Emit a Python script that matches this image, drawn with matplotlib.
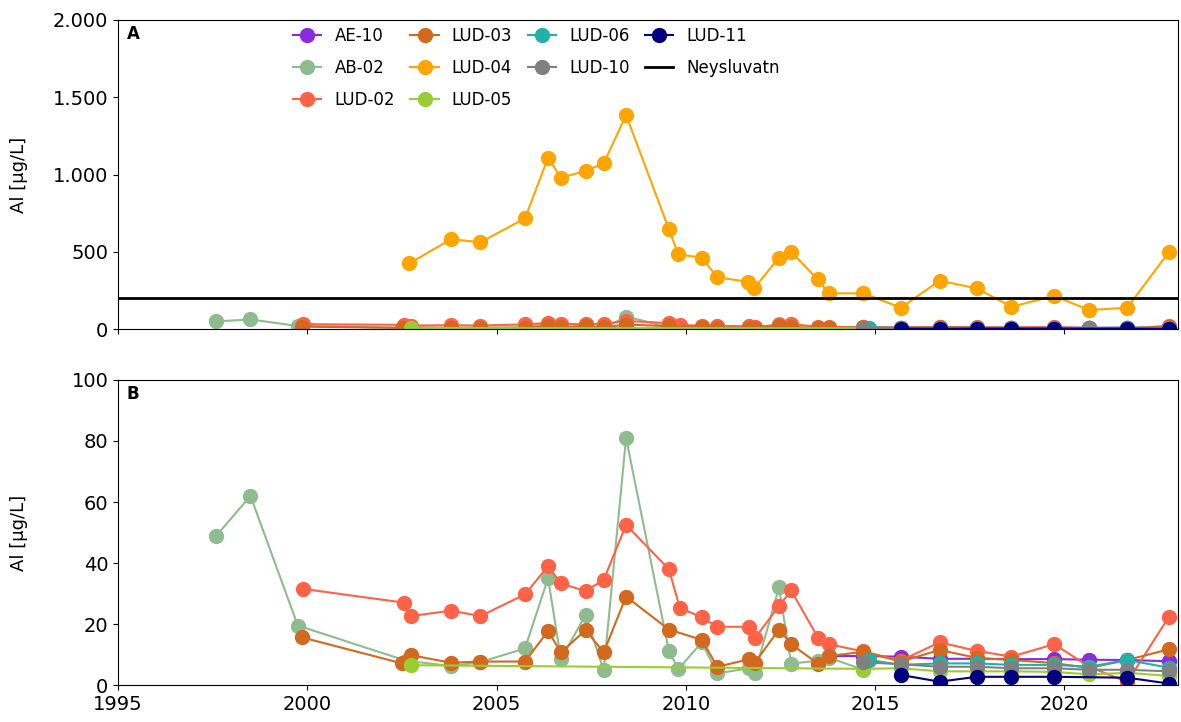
import numpy as np
import matplotlib
matplotlib.use("Agg")
import matplotlib.pyplot as plt
from matplotlib.ticker import FuncFormatter

# sampling dates (decimal years) and Al concentrations in ug/L
ae10_t = [2013.77, 2014.69, 2015.68, 2016.7, 2017.68, 2018.6, 2019.73, 2020.65, 2021.66, 2022.75]
ae10_v = [9.5, 9.5, 9.3, 8.6, 8.6, 8.5, 8.5, 8.3, 8.2, 7.8]

ab02_t = [1997.6, 1998.5, 1999.75, 2002.6, 2003.8, 2004.57, 2005.75, 2006.36, 2006.7,
          2007.35, 2007.83, 2008.42, 2009.55, 2009.8, 2010.42, 2010.83, 2011.66, 2011.82,
          2012.46, 2012.78, 2013.5, 2013.77, 2014.69]
ab02_v = [49, 62, 19.5, 8, 6.2, 7.5, 12, 35, 8.4, 23, 4.8, 81, 11.3, 5.2, 14, 3.8, 5.5,
          3.8, 32, 7, 8, 9, 5]

lud02_t = [1999.9, 2002.56, 2002.74, 2003.8, 2004.57, 2005.75, 2006.36, 2006.7, 2007.35,
           2007.83, 2008.42, 2009.55, 2009.84, 2010.42, 2010.83, 2011.66, 2011.82, 2012.46,
           2012.78, 2013.5, 2013.77, 2014.69, 2015.68, 2016.7, 2017.68, 2018.6, 2019.73,
           2020.65, 2021.66, 2022.75]
lud02_v = [31.5, 27, 22.6, 24.4, 22.6, 29.7, 39, 33.3, 30.8, 34.5, 52.5, 38, 25.3, 22.2,
           19.1, 19.1, 15.3, 25.9, 31, 15.3, 13.4, 11, 8, 14, 11.2, 9.3, 13.4, 6, 1, 22.2]

lud03_t = [1999.87, 2002.5, 2002.74, 2003.8, 2004.57, 2005.75, 2006.36, 2006.7, 2007.35,
           2007.83, 2008.42, 2009.55, 2010.42, 2010.83, 2011.66, 2011.82, 2012.46, 2012.78,
           2013.5, 2013.77, 2014.69, 2015.68, 2016.7, 2017.68, 2018.6, 2019.73, 2020.65,
           2021.66, 2022.75]
lud03_v = [15.6, 7.1, 9.8, 7.3, 7.7, 7.7, 17.7, 10.7, 18, 10.7, 29, 18.2, 14.8, 6, 8.4,
           7.3, 18.2, 13.4, 6.9, 9.5, 10.9, 7.7, 11.5, 8.9, 8.2, 7.2, 5.6, 8.2, 11.7]

lud04_t = [2002.7, 2003.8, 2004.57, 2005.75, 2006.36, 2006.7, 2007.35, 2007.83, 2008.42,
           2009.55, 2009.8, 2010.42, 2010.83, 2011.63, 2011.8, 2012.46, 2012.78, 2013.48,
           2013.77, 2014.69, 2015.68, 2016.7, 2017.68, 2018.6, 2019.73, 2020.65, 2021.66,
           2022.75]
lud04_v = [425, 582, 561, 716, 1109, 979, 1023, 1072, 1385, 647, 483, 462, 335, 306, 263,
           462, 500, 321, 231, 231, 138, 313, 263, 144, 214, 123, 138, 496]

lud05_t = [2002.74, 2014.69, 2015.68, 2016.7, 2017.68, 2018.6, 2019.73, 2020.65, 2021.66, 2022.75]
lud05_v = [6.5, 5.3, 5.5, 4.5, 4.5, 4.5, 4.3, 3.5, 4, 3]

lud06_t = [2014.85, 2015.68, 2016.7, 2017.68, 2018.6, 2019.73, 2020.65, 2021.66, 2022.75]
lud06_v = [8.2, 6.6, 7.1, 7.1, 6.6, 6.6, 6, 8.2, 5.7]

lud10_t = [2014.69, 2015.68, 2016.7, 2017.68, 2018.6, 2019.73, 2020.65, 2021.66, 2022.75]
lud10_v = [7.5, 6.8, 6, 6, 5.5, 5.5, 5, 5, 4.5]

lud11_t = [2015.68, 2016.7, 2017.68, 2018.6, 2019.73, 2021.66, 2022.75]
lud11_v = [3.3, 1.1, 2.7, 2.7, 2.7, 2.4, 0.5]

neysluvatn = 200

series = [
    ("AE-10", ae10_t, ae10_v, "blueviolet"),
    ("AB-02", ab02_t, ab02_v, "darkseagreen"),
    ("LUD-02", lud02_t, lud02_v, "tomato"),
    ("LUD-03", lud03_t, lud03_v, "chocolate"),
    ("LUD-04", lud04_t, lud04_v, "orange"),
    ("LUD-05", lud05_t, lud05_v, "yellowgreen"),
    ("LUD-06", lud06_t, lud06_v, "lightseagreen"),
    ("LUD-10", lud10_t, lud10_v, "gray"),
    ("LUD-11", lud11_t, lud11_v, "navy"),
]

plt.rcParams["font.size"] = 14

fig = plt.figure(figsize=(11.81, 7.22), dpi=100)
ax1 = fig.add_axes([0.0999, 0.5443, 0.8976, 0.428])
ax2 = fig.add_axes([0.0999, 0.0512, 0.8976, 0.4225], sharex=ax1)

for ax in (ax1, ax2):
    for name, t, v, c in series:
        ax.plot(t, v, "-o", color=c, label=name, lw=1.5, ms=10)

ax1.axhline(neysluvatn, color="black", lw=2, label="Neysluvatn")

ax1.set_xlim(1995, 2023)
ax1.set_ylim(0, 2000)
ax1.set_yticks([0, 500, 1000, 1500, 2000])
ax1.yaxis.set_major_formatter(FuncFormatter(lambda x, p: f"{int(x):,}".replace(",", ".")))
ax1.tick_params(labelbottom=False)
ax2.set_ylim(0, 100)
ax2.set_yticks([0, 20, 40, 60, 80, 100])
ax2.set_xticks([1995, 2000, 2005, 2010, 2015, 2020])

for ax in (ax1, ax2):
    ax.set_ylabel("Al [µg/L]", fontsize=13)
    ax.yaxis.set_label_coords(-0.085, 0.5)

ax1.text(0.008, 0.985, "A", transform=ax1.transAxes, fontweight="bold", va="top", fontsize=12)
ax2.text(0.008, 0.985, "B", transform=ax2.transAxes, fontweight="bold", va="top", fontsize=12)

ax1.legend(loc="upper left", ncol=4, frameon=False, fontsize=12,
           bbox_to_anchor=(0.151, 1.027), handlelength=1.7, handletextpad=0.78,
           columnspacing=0.93, labelspacing=0.84)

fig.savefig("out.png", dpi=100)
